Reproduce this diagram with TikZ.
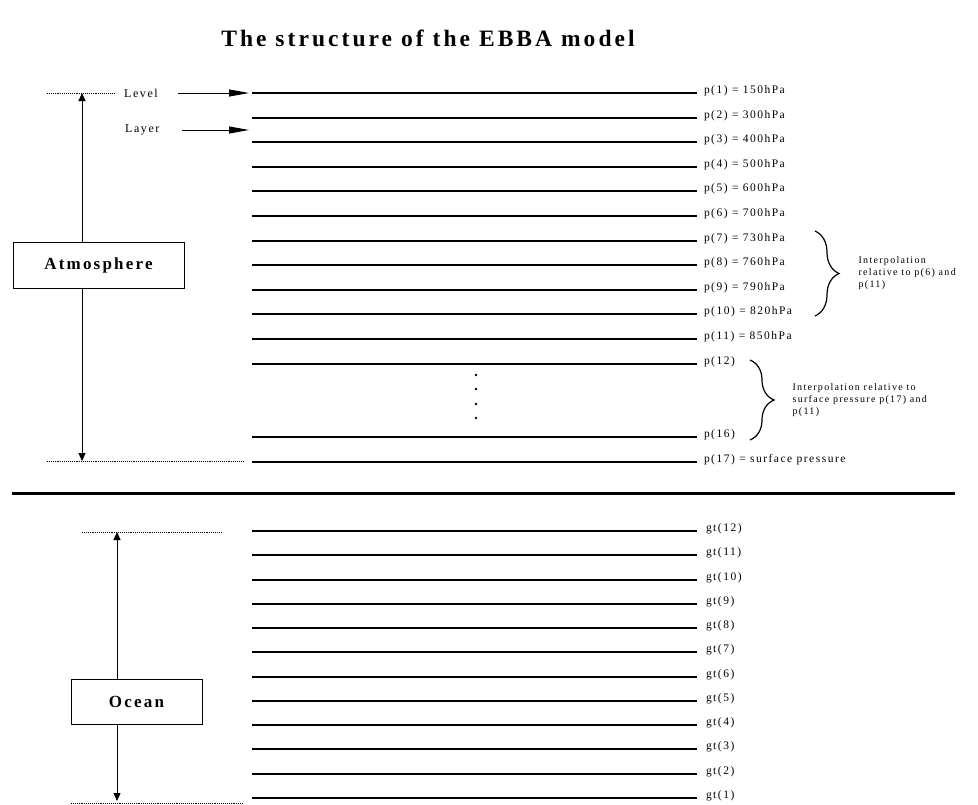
\documentclass[tikz,border=0pt]{standalone}
\usepackage{fontspec}
\setmainfont{Liberation Serif}[LetterSpace=13]
\usetikzlibrary{arrows.meta,decorations.pathreplacing}

\tikzset{
  lvl/.style={line width=2pt},
  lbl/.style={anchor=base west, inner sep=0pt, font=\fontsize{11.5}{13}\selectfont},
  dotline/.style={densely dotted, line width=0.9pt},
  bigbox/.style={draw, line width=0.9pt, font=\bfseries\fontsize{17}{20}\selectfont},
  pointer/.style={-{Triangle[length=20pt,width=7pt]}, line width=1pt},
  vtip/.style={-{Triangle[length=8pt,width=7pt]}, line width=1pt},
  curly/.style={decorate, decoration={brace, amplitude=24pt}, line width=1.2pt},
  note/.style={anchor=west, align=left, inner sep=0pt, font=\fontsize{10}{12}\selectfont},
}

\begin{document}
\begin{tikzpicture}[x=1pt,y=-1pt]
        \useasboundingbox (0,0) rectangle (978,804);
        \node[font=\bfseries\fontsize{23.5}{28}\selectfont] (title) at (428,38) {The structure of the EBBA model};
        \foreach \i/\val [evaluate=\i as \yy using {round(93+24.6*(\i-1))}] in {1/150,2/300,3/400,4/500,5/600,6/700,7/730,8/760,9/790,10/820,11/850}
        \draw[lvl] (252,\yy) -- (697,\yy) node[lbl, xshift=6pt] (p\i) {p(\i) = \val hPa};
        \draw[lvl] (252,364) -- (697,364) node[lbl, xshift=6pt] (p12) {p(12)};
        \draw[lvl] (252,437) -- (697,437) node[lbl, xshift=6pt] (p16) {p(16)};
        \draw[lvl] (252,462) -- (697,462) node[lbl, xshift=6pt] (p17) {p(17) = surface pressure};
        \foreach \y in {375,389,404,418}
        \fill (476,\y) circle (1.3);
        \node[lbl, anchor=west, font=\fontsize{12}{14}\selectfont] (level) at (124,93) {Level};
        \node[lbl, anchor=west, font=\fontsize{12}{14}\selectfont] (layer) at (125,130) {Layer};
        \coordinate (lvlend) at (249,93);
        \coordinate (layend) at (249,130);
        \draw[pointer] (lvlend -| 178,0) -- (lvlend);
        \draw[pointer] (layend -| 182,0) -- (layend);
        \draw[dotline] (47,93) -- (115,93);
        \draw[dotline] (47,461) -- (243,461);
        \coordinate (atop) at (82,93);
        \coordinate (abot) at (82,461);
        \node[bigbox, minimum width=171pt, minimum height=46pt] (atm) at (98.5,265) {Atmosphere};
        \draw[vtip] (atm.north -| atop) -- (atop);
        \draw[vtip] (atm.south -| abot) -- (abot);
        \draw[curly] (815,231) -- (815,316) node[note, midway, xshift=43pt] (int1) {Interpolation\\relative to p(6) and\\p(11)};
        \draw[curly] (750,360) -- (750,440) node[note, midway, xshift=42pt] (int2) {Interpolation relative to\\surface pressure p(17) and\\p(11)};
        \draw[line width=3pt] (12,493) -- (955,493);
        \foreach \i [evaluate=\i as \yy using {round(798-24.27*(\i-1))}] in {1,...,12}
        \draw[lvl] (252,\yy) -- (697,\yy) node[lbl, xshift=8pt] (gt\i) {gt(\i)};
        \draw[dotline] (82,532) -- (222,532);
        \draw[dotline] (71,803) -- (243,803);
        \coordinate (otop) at (117,532);
        \coordinate (obot) at (117,801);
        \node[bigbox, minimum width=131pt, minimum height=45pt] (ocean) at (136.5,701.5) {Ocean};
        \draw[vtip] (ocean.north -| otop) -- (otop);
        \draw[vtip] (ocean.south -| obot) -- (obot);
      \end{tikzpicture}
\end{document}
